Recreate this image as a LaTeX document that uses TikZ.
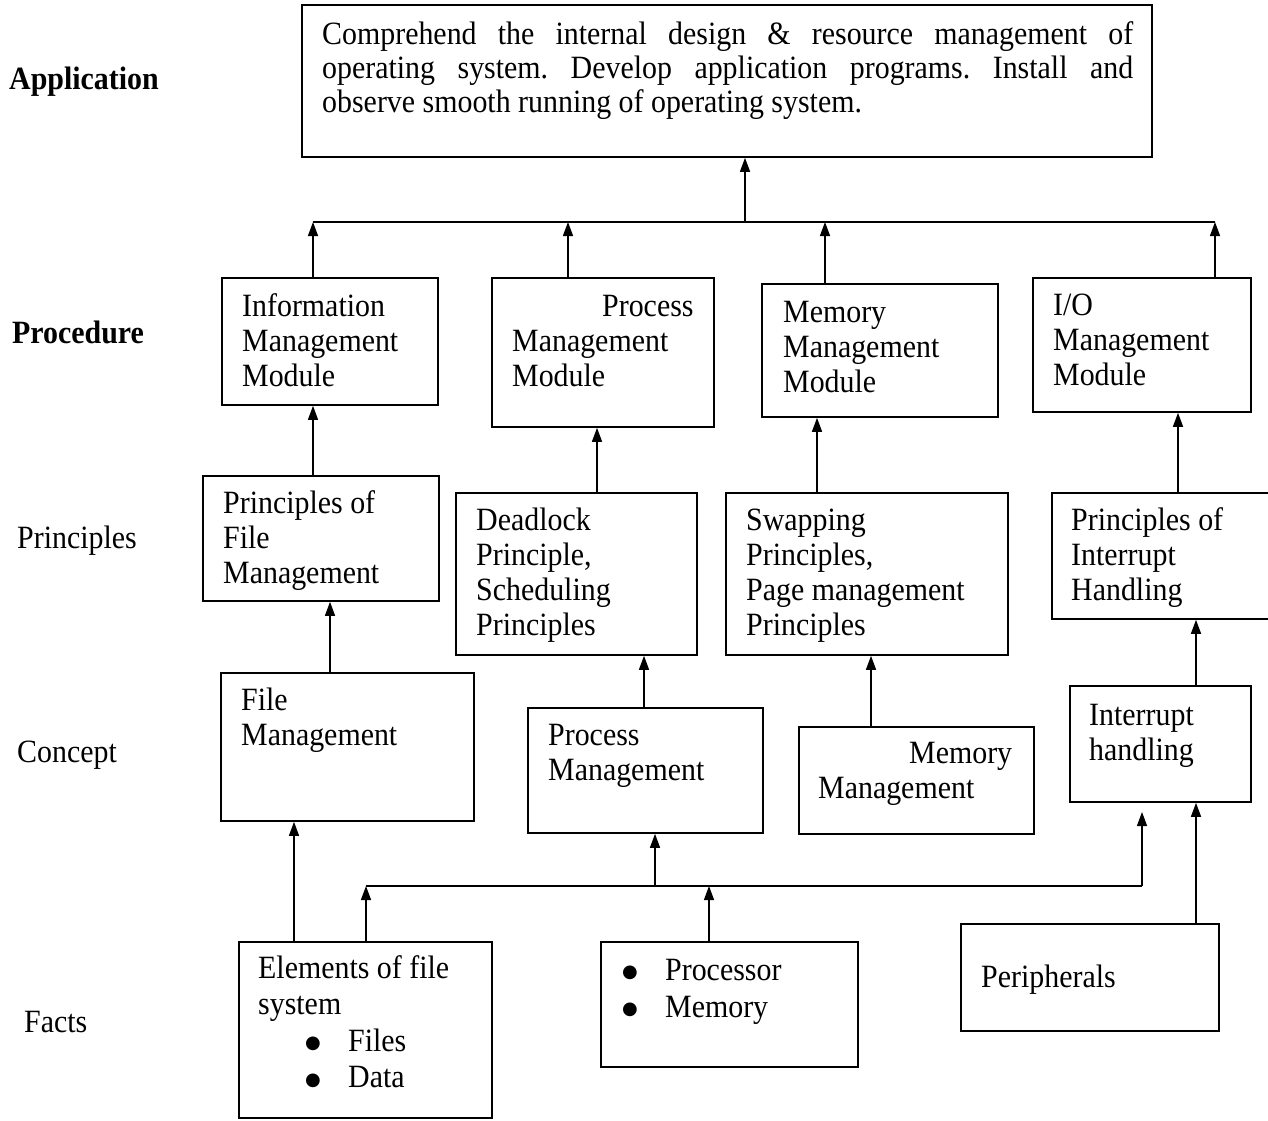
\documentclass[tikz,border=0pt]{standalone}
\usepackage{fontspec}
\setmainfont{Liberation Serif}[FakeStretch=0.92]
\newfontfamily\symfont{DejaVu Sans}
\usetikzlibrary{arrows.meta,fit}
\tikzset{
  box/.style={draw, line width=1.6pt, inner sep=0pt},
  txt/.style={inner sep=0pt, anchor=base west, align=flush left, text width=330pt,
              font=\fontsize{32.5}{35}\selectfont},
  lbl/.style={inner sep=0pt, anchor=base west, font=\fontsize{32.5}{35}\selectfont},
  arr/.style={line width=1.4pt, -{Triangle[length=14pt,width=10pt]}},
  bus/.style={line width=1.4pt}
}
\newcommand{\bul}{\makebox[43pt][l]{\raisebox{2.5pt}{\symfont\fontsize{18}{18}\selectfont ●}}}
\begin{document}
\begin{tikzpicture}[x=1pt,y=-1pt]
\useasboundingbox (0,0) rectangle (1268,1120);
\fill[white] (0,0) rectangle (1268,1120);

% level labels
\node[lbl, font=\fontsize{32.5}{35}\selectfont\bfseries] (lapp) at (9,89) {Application};
\node[lbl, font=\fontsize{32.5}{35}\selectfont\bfseries] (lproc) at (12,343) {Procedure};
\node[lbl] (lprin) at (17,548) {Principles};
\node[lbl] (lconc) at (17,762) {Concept};
\node[lbl] (lfact) at (24,1032) {Facts};

% boxes
\node[box, fit={(302,5) (1152,157)}] (top) {};
\node[box, fit={(222,278) (438,405)}] (info) {};
\node[box, fit={(492,278) (714,427)}] (procmod) {};
\node[box, fit={(762,284) (998,417)}] (memmod) {};
\node[box, fit={(1033,278) (1251,412)}] (iomod) {};
\node[box, fit={(203,476) (439,601)}] (fileprin) {};
\node[box, fit={(456,493) (697,655)}] (deadlock) {};
\node[box, fit={(726,493) (1008,655)}] (swap) {};
\node[box, fit={(1052,493) (1280,619)}] (intprin) {};
\node[box, fit={(221,673) (474,821)}] (filemgmt) {};
\node[box, fit={(528,708) (763,833)}] (procmgmt) {};
\node[box, fit={(799,727) (1034,834)}] (memmgmt) {};
\node[box, fit={(1070,686) (1251,802)}] (inthand) {};
\node[box, fit={(239,942) (492,1118)}] (elements) {};
\node[box, fit={(601,942) (858,1067)}] (cpu) {};
\node[box, fit={(961,924) (1219,1031)}] (periph) {};

% texts
\node[txt, text width=811pt, align=justify, font=\fontsize{32.5}{34}\selectfont\frenchspacing] (ttop) at (322,44)
  {Comprehend the internal design \& resource management of\linebreak
   operating system. Develop application programs. Install and\linebreak
   observe smooth running of operating system.};
\node[txt] (tinfo) at (242,316) {Information\\Management\\Module};
\node[txt] (tprocmod) at (512,316) {\hspace*{90pt}Process\\Management\\Module};
\node[txt] (tmemmod) at (783,322) {Memory\\Management\\Module};
\node[txt] (tiomod) at (1053,315) {I/O\\Management\\Module};
\node[txt] (tfileprin) at (223,513) {Principles of\\File\\Management};
\node[txt] (tdeadlock) at (476,530) {Deadlock\\Principle,\\Scheduling\\Principles};
\node[txt] (tswap) at (746,530) {Swapping\\Principles,\\Page management\\Principles};
\node[txt] (tintprin) at (1071,530) {Principles of\\Interrupt\\Handling};
\node[txt] (tfilemgmt) at (241,710) {File\\Management};
\node[txt] (tprocmgmt) at (548,745) {Process\\Management};
\node[txt] (tmemmgmt) at (818,763) {\hspace*{91pt}Memory\\Management};
\node[txt] (tinthand) at (1089,725) {Interrupt\\handling};
\node[txt, font=\fontsize{32.5}{36.5}\selectfont] (telements) at (258,978)
  {Elements of file\\system\\\hspace*{47pt}\bul Files\\\hspace*{47pt}\bul Data};
\node[txt, font=\fontsize{32.5}{37}\selectfont] (tcpu) at (622,980) {\bul Processor\\\bul Memory};
\node[txt] (tperiph) at (981,987) {Peripherals};

% x positions of connectors
\coordinate (busL) at (313,222);
\coordinate (busR) at (1215,222);
\coordinate (busC) at (745,222);
\coordinate (busP) at (568,222);
\coordinate (busM) at (825,222);
\coordinate (xa) at (597,0);
\coordinate (xb) at (817,0);
\coordinate (xc) at (1178,0);
\coordinate (xd) at (330,0);
\coordinate (xe) at (644,0);
\coordinate (xf) at (871,0);
\coordinate (xg) at (1196,0);
\coordinate (xh) at (294,0);
\coordinate (b2L) at (366,886);
\coordinate (b2R) at (1142,886);
\coordinate (b2M) at (655,886);
\coordinate (b2P) at (709,886);
\coordinate (tipR) at (1142,812);

% procedure -> application
\draw[bus] (busL) -- (busR);
\draw[arr] (busC) -- (top.south -| busC);
\draw[arr] (info.north -| busL) -- (busL);
\draw[arr] (procmod.north -| busP) -- (busP);
\draw[arr] (memmod.north -| busM) -- (busM);
\draw[arr] (iomod.north -| busR) -- (busR);

% principles -> procedure
\draw[arr] (fileprin.north -| busL) -- (info.south -| busL);
\draw[arr] (deadlock.north -| xa) -- (procmod.south -| xa);
\draw[arr] (swap.north -| xb) -- (memmod.south -| xb);
\draw[arr] (intprin.north -| xc) -- (iomod.south -| xc);

% concept -> principles
\draw[arr] (filemgmt.north -| xd) -- (fileprin.south -| xd);
\draw[arr] (procmgmt.north -| xe) -- (deadlock.south -| xe);
\draw[arr] (memmgmt.north -| xf) -- (swap.south -| xf);
\draw[arr] (inthand.north -| xg) -- (intprin.south -| xg);

% facts -> concept
\draw[arr] (elements.north -| xh) -- (filemgmt.south -| xh);
\draw[arr] (elements.north -| b2L) -- (b2L);
\draw[bus] (b2L) -- (b2R);
\draw[arr] (b2R) -- (tipR);
\draw[arr] (b2M) -- (procmgmt.south -| b2M);
\draw[arr] (cpu.north -| b2P) -- (b2P);
\draw[arr] (periph.north -| xg) -- (inthand.south -| xg);
\end{tikzpicture}
\end{document}
